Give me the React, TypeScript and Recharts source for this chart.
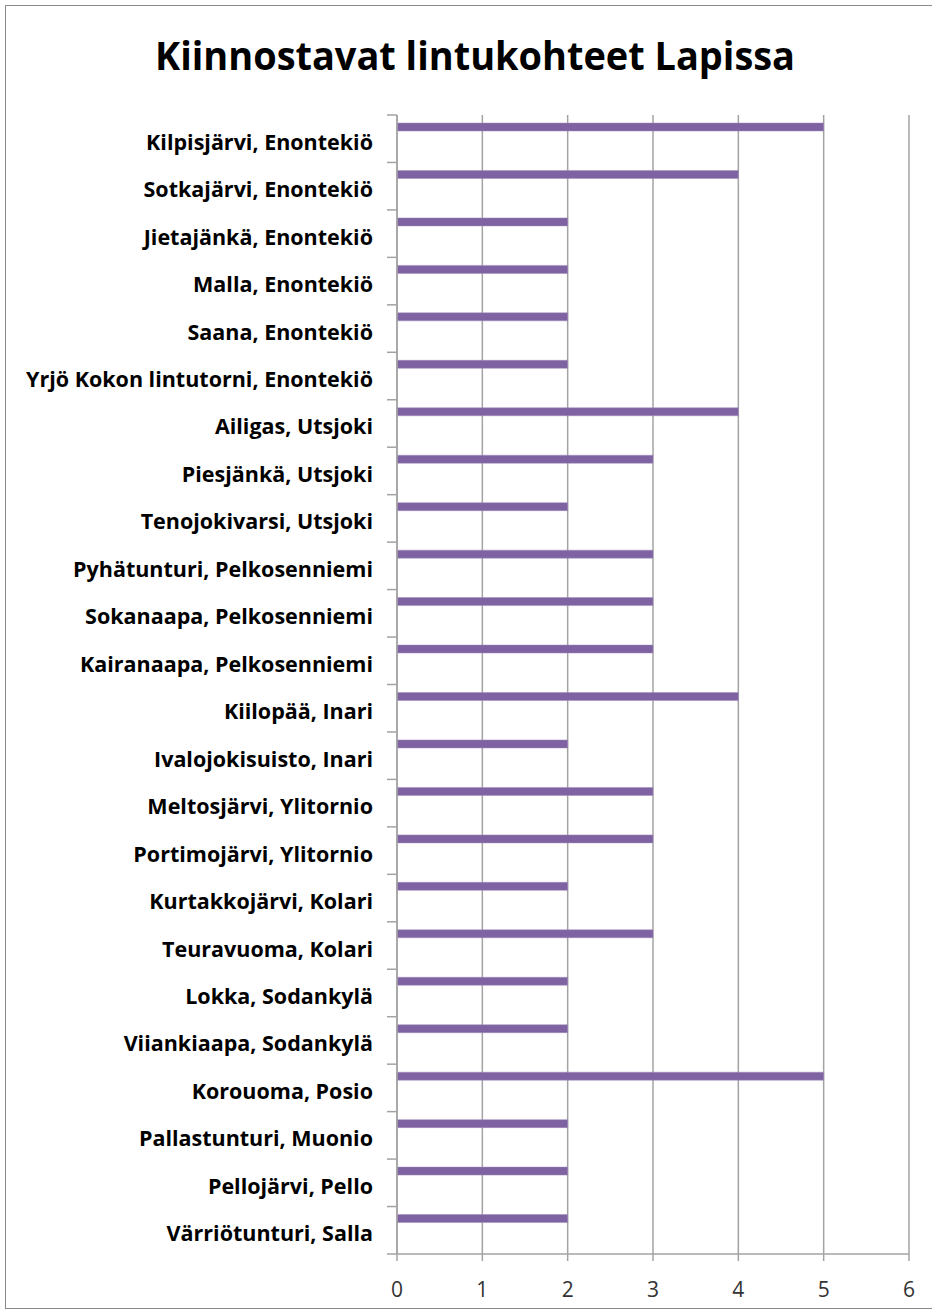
import React from 'react';
import { BarChart, Bar, XAxis, YAxis, CartesianGrid } from 'recharts';

const categories = [
  'Kilpisjärvi, Enontekiö',
  'Sotkajärvi, Enontekiö',
  'Jietajänkä, Enontekiö',
  'Malla, Enontekiö',
  'Saana, Enontekiö',
  'Yrjö Kokon lintutorni, Enontekiö',
  'Ailigas, Utsjoki',
  'Piesjänkä, Utsjoki',
  'Tenojokivarsi, Utsjoki',
  'Pyhätunturi, Pelkosenniemi',
  'Sokanaapa, Pelkosenniemi',
  'Kairanaapa, Pelkosenniemi',
  'Kiilopää, Inari',
  'Ivalojokisuisto, Inari',
  'Meltosjärvi, Ylitornio',
  'Portimojärvi, Ylitornio',
  'Kurtakkojärvi, Kolari',
  'Teuravuoma, Kolari',
  'Lokka, Sodankylä',
  'Viiankiaapa, Sodankylä',
  'Korouoma, Posio',
  'Pallastunturi, Muonio',
  'Pellojärvi, Pello',
  'Värriötunturi, Salla',
];

const values = [5, 4, 2, 2, 2, 2, 4, 3, 2, 3, 3, 3, 4, 2, 3, 3, 2, 3, 2, 2, 5, 2, 2, 2];

const xTicks = [0, 1, 2, 3, 4, 5, 6];

const title = 'Kiinnostavat lintukohteet Lapissa';

const data = categories.map((name, i) => ({ name, value: values[i] }));

const FONT = '"Open Sans", Lato, sans-serif';
const GRID = '#a3a3a3';
const BAR = '#7e62a1';

const CHART_W = 932;
const CHART_H = 1313;
const MARGIN = { top: 115, right: 23, bottom: 9, left: 17 };
const X_AXIS_H = 50;
const Y_AXIS_W = 380;
const LABEL_GAP = 24;
const BOUNDARY_TICK = 10;
const PLOT_H = CHART_H - MARGIN.top - MARGIN.bottom - X_AXIS_H;
const BAND = PLOT_H / categories.length;

const CategoryTick = (props: any) => {
  const { x, y, payload, index } = props;
  const axisX = x + LABEL_GAP;
  const isLast = index === categories.length - 1;
  return (
    <g>
      <line x1={axisX - BOUNDARY_TICK} x2={axisX} y1={y - BAND / 2} y2={y - BAND / 2} stroke={GRID} strokeWidth={1.5} />
      {isLast && (
        <line x1={axisX - BOUNDARY_TICK} x2={axisX} y1={y + BAND / 2} y2={y + BAND / 2} stroke={GRID} strokeWidth={1.5} />
      )}
      <text x={x} y={y} dy={11} textAnchor="end" fontFamily={FONT} fontWeight="bold" fontSize={21.5} fill="#000">
        {payload.value}
      </text>
    </g>
  );
};

const ValueTick = (props: any) => {
  const { x, y, payload } = props;
  return (
    <text x={x} y={y} dy={36} textAnchor="middle" fontFamily={FONT} fontSize={21} fill="#333">
      {payload.value}
    </text>
  );
};

export default function App() {
  return (
    <div style={{ position: 'absolute', left: 0, top: 0, width: CHART_W, height: CHART_H, background: '#fff', overflow: 'hidden' }}>
      <div
        style={{
          position: 'absolute',
          left: 5,
          top: 5,
          width: 940,
          height: 1304,
          border: '1px solid #8a8a8a',
          boxSizing: 'border-box',
        }}
      />
      <svg width={CHART_W} height={100} style={{ position: 'absolute', left: 0, top: 0 }}>
        <text
          x={475}
          y={70}
          textAnchor="middle"
          fontFamily={FONT}
          fontWeight="bold"
          fontSize={40}
          fill="#000"
          textLength={640}
          lengthAdjust="spacingAndGlyphs"
        >
          {title}
        </text>
      </svg>
      <div style={{ position: 'absolute', left: 0, top: 0 }}>
        <BarChart
          width={CHART_W}
          height={CHART_H}
          data={data}
          layout="vertical"
          margin={MARGIN}
          barGap={0}
          barSize={8}
        >
          <CartesianGrid horizontal={false} stroke={GRID} strokeWidth={1.5} />
          <XAxis
            type="number"
            domain={[0, 6]}
            ticks={xTicks}
            interval={0}
            height={X_AXIS_H}
            tickSize={7}
            tickMargin={0}
            stroke={GRID}
            tickLine={{ stroke: GRID, strokeWidth: 1.5 }}
            axisLine={{ stroke: GRID, strokeWidth: 1.5 }}
            tick={<ValueTick />}
          />
          <YAxis
            type="category"
            dataKey="name"
            width={Y_AXIS_W}
            interval={0}
            tickSize={0}
            tickMargin={LABEL_GAP}
            axisLine={{ stroke: GRID, strokeWidth: 1.5 }}
            tickLine={false}
            tick={<CategoryTick />}
          />
          <Bar dataKey="value" fill={BAR} stroke="#a08cbc" strokeWidth={0.5} isAnimationActive={false} />
          <Bar dataKey="empty1" fill={BAR} isAnimationActive={false} />
          <Bar dataKey="empty2" fill={BAR} isAnimationActive={false} />
          <Bar dataKey="empty3" fill={BAR} isAnimationActive={false} />
        </BarChart>
      </div>
    </div>
  );
}
